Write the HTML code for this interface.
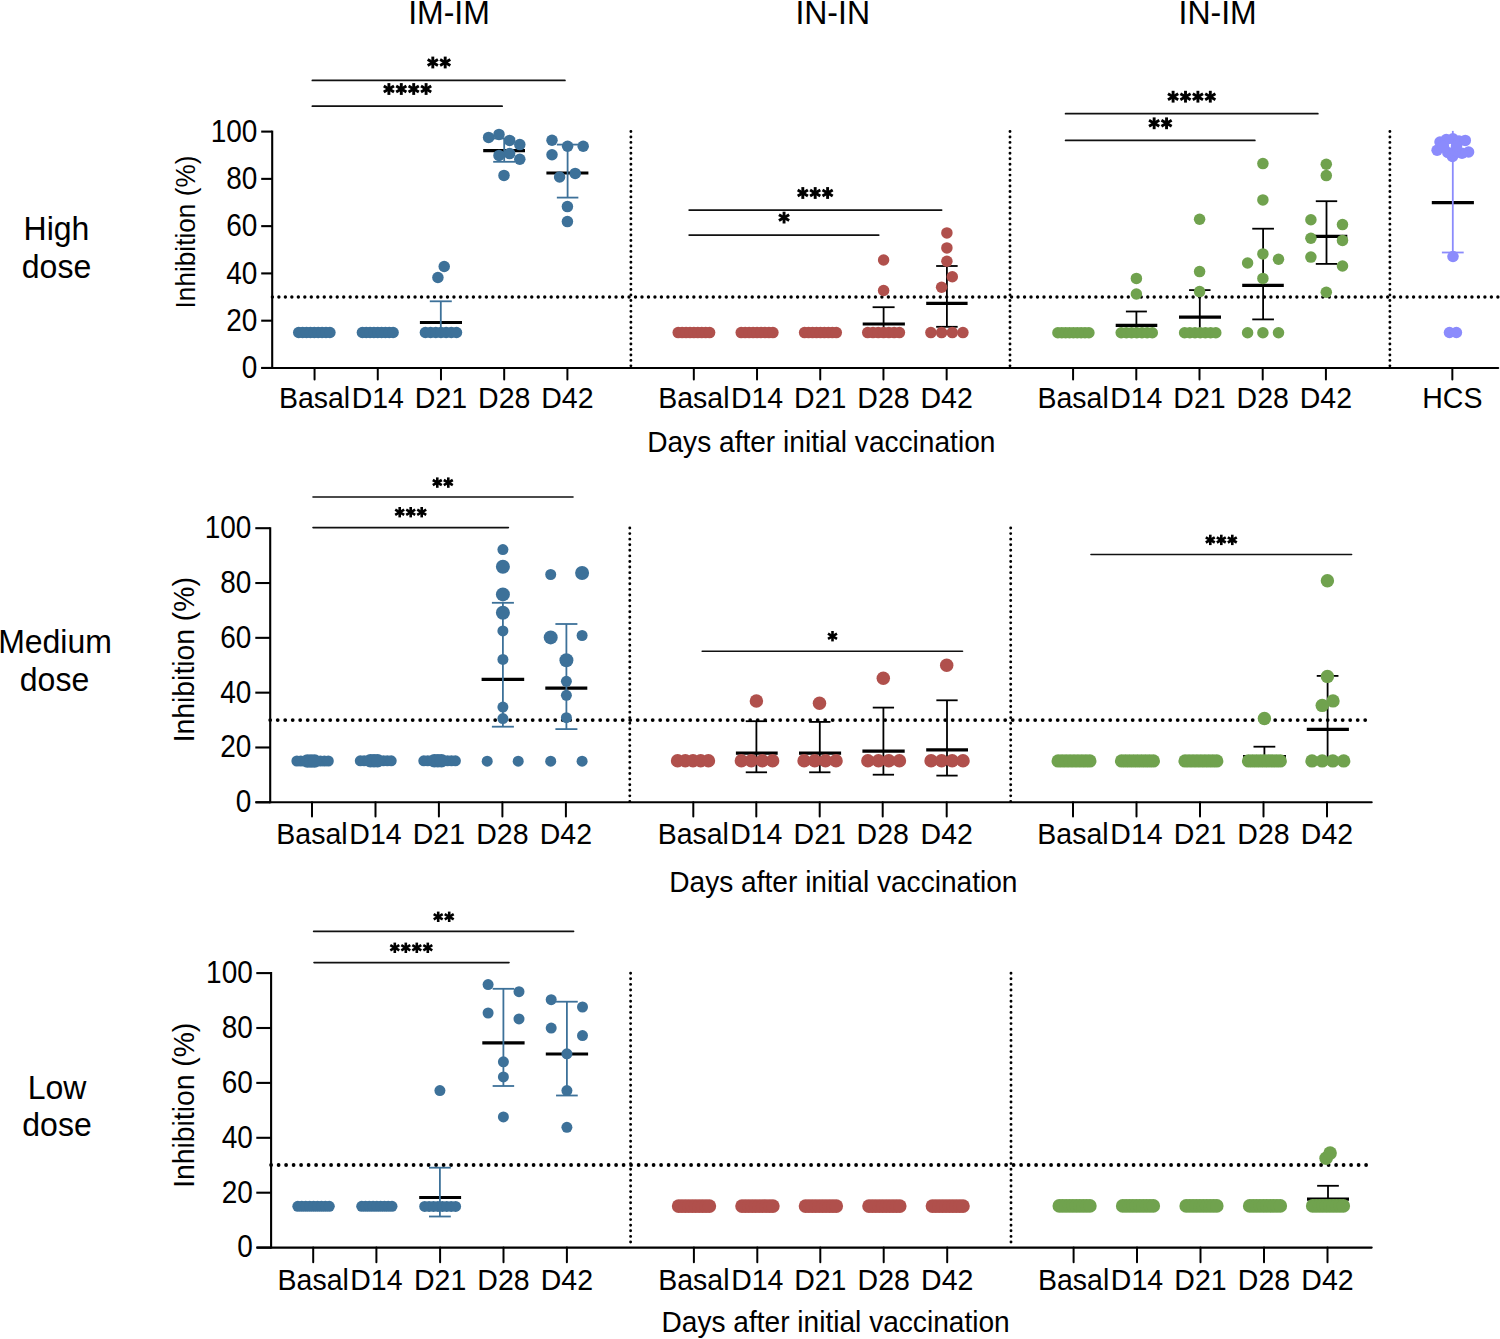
<!DOCTYPE html>
<html><head><meta charset="utf-8"><title>Inhibition chart</title>
<style>
html,body{margin:0;padding:0;background:#fff;}
body{width:1500px;height:1339px;position:relative;overflow:hidden;font-family:"Liberation Sans", sans-serif;}
text{font-family:"Liberation Sans", sans-serif;fill:#000;}
</style></head><body>
<svg width="1500" height="1339" viewBox="0 0 1500 1339" style="position:absolute;left:0;top:0" font-family='"Liberation Sans", sans-serif'>
<rect width="1500" height="1339" fill="#fff"/>
<text transform="translate(449.00 23.80) scale(1 1.045)" font-size="32" text-anchor="middle" font-weight="400" >IM-IM</text>
<text transform="translate(832.70 23.80) scale(1 1.045)" font-size="32" text-anchor="middle" font-weight="400" >IN-IN</text>
<text transform="translate(1217.60 23.80) scale(1 1.045)" font-size="32" text-anchor="middle" font-weight="400" >IN-IM</text>
<text transform="translate(56.50 240.10) scale(1 1.04)" font-size="32" text-anchor="middle" font-weight="400" >High</text>
<text transform="translate(56.50 277.90) scale(1 1.04)" font-size="32" text-anchor="middle" font-weight="400" >dose</text>
<text transform="translate(55.00 653.40) scale(1 1.04)" font-size="32" text-anchor="middle" font-weight="400" >Medium</text>
<text transform="translate(54.50 690.70) scale(1 1.04)" font-size="32" text-anchor="middle" font-weight="400" >dose</text>
<text transform="translate(57.00 1098.60) scale(1 1.04)" font-size="32" text-anchor="middle" font-weight="400" >Low</text>
<text transform="translate(57.00 1135.90) scale(1 1.04)" font-size="32" text-anchor="middle" font-weight="400" >dose</text>
<text x="0" y="0" font-size="26.2" text-anchor="middle" transform="translate(195.30,232.00) rotate(-90) scale(1 1.087)">Inhibition (%)</text>
<text x="0" y="0" font-size="28.3" text-anchor="middle" transform="translate(193.90,659.70) rotate(-90) scale(1 1.058)">Inhibition (%)</text>
<text x="0" y="0" font-size="28.3" text-anchor="middle" transform="translate(193.90,1105.30) rotate(-90) scale(1 1.058)">Inhibition (%)</text>
<text transform="translate(821.30 451.70) scale(1 1.03)" font-size="28.1" text-anchor="middle" font-weight="400" >Days after initial vaccination</text>
<text transform="translate(843.40 891.70) scale(1 1.03)" font-size="28.1" text-anchor="middle" font-weight="400" >Days after initial vaccination</text>
<text transform="translate(835.60 1332.40) scale(1 1.03)" font-size="28.1" text-anchor="middle" font-weight="400" >Days after initial vaccination</text>
<line x1="272.20" y1="130.60" x2="272.20" y2="368.95" stroke="#000" stroke-width="2.1" stroke-linecap="butt" />
<line x1="261.20" y1="367.95" x2="272.20" y2="367.95" stroke="#000" stroke-width="2.1" stroke-linecap="butt" />
<text transform="translate(257.40 378.15) scale(1 1.09)" font-size="28" text-anchor="end" font-weight="400" >0</text>
<line x1="261.20" y1="320.68" x2="272.20" y2="320.68" stroke="#000" stroke-width="2.1" stroke-linecap="butt" />
<text transform="translate(257.40 330.88) scale(1 1.09)" font-size="28" text-anchor="end" font-weight="400" >20</text>
<line x1="261.20" y1="273.41" x2="272.20" y2="273.41" stroke="#000" stroke-width="2.1" stroke-linecap="butt" />
<text transform="translate(257.40 283.61) scale(1 1.09)" font-size="28" text-anchor="end" font-weight="400" >40</text>
<line x1="261.20" y1="226.14" x2="272.20" y2="226.14" stroke="#000" stroke-width="2.1" stroke-linecap="butt" />
<text transform="translate(257.40 236.34) scale(1 1.09)" font-size="28" text-anchor="end" font-weight="400" >60</text>
<line x1="261.20" y1="178.87" x2="272.20" y2="178.87" stroke="#000" stroke-width="2.1" stroke-linecap="butt" />
<text transform="translate(257.40 189.07) scale(1 1.09)" font-size="28" text-anchor="end" font-weight="400" >80</text>
<line x1="261.20" y1="131.60" x2="272.20" y2="131.60" stroke="#000" stroke-width="2.1" stroke-linecap="butt" />
<text transform="translate(257.40 141.80) scale(1 1.09)" font-size="28" text-anchor="end" font-weight="400" >100</text>
<line x1="262.25" y1="367.95" x2="1498.20" y2="367.95" stroke="#000" stroke-width="2.1" stroke-linecap="round" />
<line x1="314.56" y1="367.95" x2="314.56" y2="379.50" stroke="#000" stroke-width="2" stroke-linecap="round" />
<line x1="377.77" y1="367.95" x2="377.77" y2="379.50" stroke="#000" stroke-width="2" stroke-linecap="round" />
<line x1="440.98" y1="367.95" x2="440.98" y2="379.50" stroke="#000" stroke-width="2" stroke-linecap="round" />
<line x1="504.19" y1="367.95" x2="504.19" y2="379.50" stroke="#000" stroke-width="2" stroke-linecap="round" />
<line x1="567.40" y1="367.95" x2="567.40" y2="379.50" stroke="#000" stroke-width="2" stroke-linecap="round" />
<line x1="693.82" y1="367.95" x2="693.82" y2="379.50" stroke="#000" stroke-width="2" stroke-linecap="round" />
<line x1="757.03" y1="367.95" x2="757.03" y2="379.50" stroke="#000" stroke-width="2" stroke-linecap="round" />
<line x1="820.24" y1="367.95" x2="820.24" y2="379.50" stroke="#000" stroke-width="2" stroke-linecap="round" />
<line x1="883.45" y1="367.95" x2="883.45" y2="379.50" stroke="#000" stroke-width="2" stroke-linecap="round" />
<line x1="946.66" y1="367.95" x2="946.66" y2="379.50" stroke="#000" stroke-width="2" stroke-linecap="round" />
<line x1="1073.08" y1="367.95" x2="1073.08" y2="379.50" stroke="#000" stroke-width="2" stroke-linecap="round" />
<line x1="1136.29" y1="367.95" x2="1136.29" y2="379.50" stroke="#000" stroke-width="2" stroke-linecap="round" />
<line x1="1199.50" y1="367.95" x2="1199.50" y2="379.50" stroke="#000" stroke-width="2" stroke-linecap="round" />
<line x1="1262.71" y1="367.95" x2="1262.71" y2="379.50" stroke="#000" stroke-width="2" stroke-linecap="round" />
<line x1="1325.92" y1="367.95" x2="1325.92" y2="379.50" stroke="#000" stroke-width="2" stroke-linecap="round" />
<line x1="1452.34" y1="367.95" x2="1452.34" y2="379.50" stroke="#000" stroke-width="2" stroke-linecap="round" />
<text transform="translate(314.56 408.30) scale(1 1.05)" font-size="28.5" text-anchor="middle" font-weight="400" >Basal</text>
<text transform="translate(377.77 408.30) scale(1 1.05)" font-size="28.5" text-anchor="middle" font-weight="400" >D14</text>
<text transform="translate(440.98 408.30) scale(1 1.05)" font-size="28.5" text-anchor="middle" font-weight="400" >D21</text>
<text transform="translate(504.19 408.30) scale(1 1.05)" font-size="28.5" text-anchor="middle" font-weight="400" >D28</text>
<text transform="translate(567.40 408.30) scale(1 1.05)" font-size="28.5" text-anchor="middle" font-weight="400" >D42</text>
<text transform="translate(693.82 408.30) scale(1 1.05)" font-size="28.5" text-anchor="middle" font-weight="400" >Basal</text>
<text transform="translate(757.03 408.30) scale(1 1.05)" font-size="28.5" text-anchor="middle" font-weight="400" >D14</text>
<text transform="translate(820.24 408.30) scale(1 1.05)" font-size="28.5" text-anchor="middle" font-weight="400" >D21</text>
<text transform="translate(883.45 408.30) scale(1 1.05)" font-size="28.5" text-anchor="middle" font-weight="400" >D28</text>
<text transform="translate(946.66 408.30) scale(1 1.05)" font-size="28.5" text-anchor="middle" font-weight="400" >D42</text>
<text transform="translate(1073.08 408.30) scale(1 1.05)" font-size="28.5" text-anchor="middle" font-weight="400" >Basal</text>
<text transform="translate(1136.29 408.30) scale(1 1.05)" font-size="28.5" text-anchor="middle" font-weight="400" >D14</text>
<text transform="translate(1199.50 408.30) scale(1 1.05)" font-size="28.5" text-anchor="middle" font-weight="400" >D21</text>
<text transform="translate(1262.71 408.30) scale(1 1.05)" font-size="28.5" text-anchor="middle" font-weight="400" >D28</text>
<text transform="translate(1325.92 408.30) scale(1 1.05)" font-size="28.5" text-anchor="middle" font-weight="400" >D42</text>
<text transform="translate(1452.34 408.30) scale(1 1.05)" font-size="28.5" text-anchor="middle" font-weight="400" >HCS</text>
<line x1="270.20" y1="527.20" x2="270.20" y2="803.30" stroke="#000" stroke-width="2.1" stroke-linecap="butt" />
<line x1="255.30" y1="802.30" x2="270.20" y2="802.30" stroke="#000" stroke-width="2.1" stroke-linecap="butt" />
<text transform="translate(251.40 812.30) scale(1 1.09)" font-size="28" text-anchor="end" font-weight="400" >0</text>
<line x1="255.30" y1="747.48" x2="270.20" y2="747.48" stroke="#000" stroke-width="2.1" stroke-linecap="butt" />
<text transform="translate(251.40 757.48) scale(1 1.09)" font-size="28" text-anchor="end" font-weight="400" >20</text>
<line x1="255.30" y1="692.66" x2="270.20" y2="692.66" stroke="#000" stroke-width="2.1" stroke-linecap="butt" />
<text transform="translate(251.40 702.66) scale(1 1.09)" font-size="28" text-anchor="end" font-weight="400" >40</text>
<line x1="255.30" y1="637.84" x2="270.20" y2="637.84" stroke="#000" stroke-width="2.1" stroke-linecap="butt" />
<text transform="translate(251.40 647.84) scale(1 1.09)" font-size="28" text-anchor="end" font-weight="400" >60</text>
<line x1="255.30" y1="583.02" x2="270.20" y2="583.02" stroke="#000" stroke-width="2.1" stroke-linecap="butt" />
<text transform="translate(251.40 593.02) scale(1 1.09)" font-size="28" text-anchor="end" font-weight="400" >80</text>
<line x1="255.30" y1="528.20" x2="270.20" y2="528.20" stroke="#000" stroke-width="2.1" stroke-linecap="butt" />
<text transform="translate(251.40 538.20) scale(1 1.09)" font-size="28" text-anchor="end" font-weight="400" >100</text>
<line x1="256.35" y1="802.30" x2="1371.70" y2="802.30" stroke="#000" stroke-width="2.1" stroke-linecap="round" />
<line x1="312.00" y1="802.30" x2="312.00" y2="816.60" stroke="#000" stroke-width="2" stroke-linecap="round" />
<line x1="375.50" y1="802.30" x2="375.50" y2="816.60" stroke="#000" stroke-width="2" stroke-linecap="round" />
<line x1="438.90" y1="802.30" x2="438.90" y2="816.60" stroke="#000" stroke-width="2" stroke-linecap="round" />
<line x1="502.40" y1="802.30" x2="502.40" y2="816.60" stroke="#000" stroke-width="2" stroke-linecap="round" />
<line x1="565.90" y1="802.30" x2="565.90" y2="816.60" stroke="#000" stroke-width="2" stroke-linecap="round" />
<line x1="693.30" y1="802.30" x2="693.30" y2="816.60" stroke="#000" stroke-width="2" stroke-linecap="round" />
<line x1="756.30" y1="802.30" x2="756.30" y2="816.60" stroke="#000" stroke-width="2" stroke-linecap="round" />
<line x1="819.70" y1="802.30" x2="819.70" y2="816.60" stroke="#000" stroke-width="2" stroke-linecap="round" />
<line x1="882.70" y1="802.30" x2="882.70" y2="816.60" stroke="#000" stroke-width="2" stroke-linecap="round" />
<line x1="946.70" y1="802.30" x2="946.70" y2="816.60" stroke="#000" stroke-width="2" stroke-linecap="round" />
<line x1="1073.00" y1="802.30" x2="1073.00" y2="816.60" stroke="#000" stroke-width="2" stroke-linecap="round" />
<line x1="1136.50" y1="802.30" x2="1136.50" y2="816.60" stroke="#000" stroke-width="2" stroke-linecap="round" />
<line x1="1200.00" y1="802.30" x2="1200.00" y2="816.60" stroke="#000" stroke-width="2" stroke-linecap="round" />
<line x1="1263.50" y1="802.30" x2="1263.50" y2="816.60" stroke="#000" stroke-width="2" stroke-linecap="round" />
<line x1="1327.00" y1="802.30" x2="1327.00" y2="816.60" stroke="#000" stroke-width="2" stroke-linecap="round" />
<text transform="translate(312.00 844.40) scale(1 1.05)" font-size="28.5" text-anchor="middle" font-weight="400" >Basal</text>
<text transform="translate(375.50 844.40) scale(1 1.05)" font-size="28.5" text-anchor="middle" font-weight="400" >D14</text>
<text transform="translate(438.90 844.40) scale(1 1.05)" font-size="28.5" text-anchor="middle" font-weight="400" >D21</text>
<text transform="translate(502.40 844.40) scale(1 1.05)" font-size="28.5" text-anchor="middle" font-weight="400" >D28</text>
<text transform="translate(565.90 844.40) scale(1 1.05)" font-size="28.5" text-anchor="middle" font-weight="400" >D42</text>
<text transform="translate(693.30 844.40) scale(1 1.05)" font-size="28.5" text-anchor="middle" font-weight="400" >Basal</text>
<text transform="translate(756.30 844.40) scale(1 1.05)" font-size="28.5" text-anchor="middle" font-weight="400" >D14</text>
<text transform="translate(819.70 844.40) scale(1 1.05)" font-size="28.5" text-anchor="middle" font-weight="400" >D21</text>
<text transform="translate(882.70 844.40) scale(1 1.05)" font-size="28.5" text-anchor="middle" font-weight="400" >D28</text>
<text transform="translate(946.70 844.40) scale(1 1.05)" font-size="28.5" text-anchor="middle" font-weight="400" >D42</text>
<text transform="translate(1073.00 844.40) scale(1 1.05)" font-size="28.5" text-anchor="middle" font-weight="400" >Basal</text>
<text transform="translate(1136.50 844.40) scale(1 1.05)" font-size="28.5" text-anchor="middle" font-weight="400" >D14</text>
<text transform="translate(1200.00 844.40) scale(1 1.05)" font-size="28.5" text-anchor="middle" font-weight="400" >D21</text>
<text transform="translate(1263.50 844.40) scale(1 1.05)" font-size="28.5" text-anchor="middle" font-weight="400" >D28</text>
<text transform="translate(1327.00 844.40) scale(1 1.05)" font-size="28.5" text-anchor="middle" font-weight="400" >D42</text>
<line x1="271.10" y1="972.10" x2="271.10" y2="1248.60" stroke="#000" stroke-width="2.1" stroke-linecap="butt" />
<line x1="256.30" y1="1247.60" x2="271.10" y2="1247.60" stroke="#000" stroke-width="2.1" stroke-linecap="butt" />
<text transform="translate(252.80 1257.40) scale(1 1.09)" font-size="28" text-anchor="end" font-weight="400" >0</text>
<line x1="256.30" y1="1192.70" x2="271.10" y2="1192.70" stroke="#000" stroke-width="2.1" stroke-linecap="butt" />
<text transform="translate(252.80 1202.50) scale(1 1.09)" font-size="28" text-anchor="end" font-weight="400" >20</text>
<line x1="256.30" y1="1137.80" x2="271.10" y2="1137.80" stroke="#000" stroke-width="2.1" stroke-linecap="butt" />
<text transform="translate(252.80 1147.60) scale(1 1.09)" font-size="28" text-anchor="end" font-weight="400" >40</text>
<line x1="256.30" y1="1082.90" x2="271.10" y2="1082.90" stroke="#000" stroke-width="2.1" stroke-linecap="butt" />
<text transform="translate(252.80 1092.70) scale(1 1.09)" font-size="28" text-anchor="end" font-weight="400" >60</text>
<line x1="256.30" y1="1028.00" x2="271.10" y2="1028.00" stroke="#000" stroke-width="2.1" stroke-linecap="butt" />
<text transform="translate(252.80 1037.80) scale(1 1.09)" font-size="28" text-anchor="end" font-weight="400" >80</text>
<line x1="256.30" y1="973.10" x2="271.10" y2="973.10" stroke="#000" stroke-width="2.1" stroke-linecap="butt" />
<text transform="translate(252.80 982.90) scale(1 1.09)" font-size="28" text-anchor="end" font-weight="400" >100</text>
<line x1="257.35" y1="1247.60" x2="1371.70" y2="1247.60" stroke="#000" stroke-width="2.1" stroke-linecap="round" />
<line x1="313.20" y1="1247.60" x2="313.20" y2="1262.20" stroke="#000" stroke-width="2" stroke-linecap="round" />
<line x1="376.40" y1="1247.60" x2="376.40" y2="1262.20" stroke="#000" stroke-width="2" stroke-linecap="round" />
<line x1="440.10" y1="1247.60" x2="440.10" y2="1262.20" stroke="#000" stroke-width="2" stroke-linecap="round" />
<line x1="503.50" y1="1247.60" x2="503.50" y2="1262.20" stroke="#000" stroke-width="2" stroke-linecap="round" />
<line x1="566.90" y1="1247.60" x2="566.90" y2="1262.20" stroke="#000" stroke-width="2" stroke-linecap="round" />
<line x1="693.90" y1="1247.60" x2="693.90" y2="1262.20" stroke="#000" stroke-width="2" stroke-linecap="round" />
<line x1="757.30" y1="1247.60" x2="757.30" y2="1262.20" stroke="#000" stroke-width="2" stroke-linecap="round" />
<line x1="820.30" y1="1247.60" x2="820.30" y2="1262.20" stroke="#000" stroke-width="2" stroke-linecap="round" />
<line x1="883.70" y1="1247.60" x2="883.70" y2="1262.20" stroke="#000" stroke-width="2" stroke-linecap="round" />
<line x1="947.20" y1="1247.60" x2="947.20" y2="1262.20" stroke="#000" stroke-width="2" stroke-linecap="round" />
<line x1="1073.60" y1="1247.60" x2="1073.60" y2="1262.20" stroke="#000" stroke-width="2" stroke-linecap="round" />
<line x1="1137.00" y1="1247.60" x2="1137.00" y2="1262.20" stroke="#000" stroke-width="2" stroke-linecap="round" />
<line x1="1200.50" y1="1247.60" x2="1200.50" y2="1262.20" stroke="#000" stroke-width="2" stroke-linecap="round" />
<line x1="1264.00" y1="1247.60" x2="1264.00" y2="1262.20" stroke="#000" stroke-width="2" stroke-linecap="round" />
<line x1="1327.50" y1="1247.60" x2="1327.50" y2="1262.20" stroke="#000" stroke-width="2" stroke-linecap="round" />
<text transform="translate(313.20 1290.00) scale(1 1.05)" font-size="28.5" text-anchor="middle" font-weight="400" >Basal</text>
<text transform="translate(376.40 1290.00) scale(1 1.05)" font-size="28.5" text-anchor="middle" font-weight="400" >D14</text>
<text transform="translate(440.10 1290.00) scale(1 1.05)" font-size="28.5" text-anchor="middle" font-weight="400" >D21</text>
<text transform="translate(503.50 1290.00) scale(1 1.05)" font-size="28.5" text-anchor="middle" font-weight="400" >D28</text>
<text transform="translate(566.90 1290.00) scale(1 1.05)" font-size="28.5" text-anchor="middle" font-weight="400" >D42</text>
<text transform="translate(693.90 1290.00) scale(1 1.05)" font-size="28.5" text-anchor="middle" font-weight="400" >Basal</text>
<text transform="translate(757.30 1290.00) scale(1 1.05)" font-size="28.5" text-anchor="middle" font-weight="400" >D14</text>
<text transform="translate(820.30 1290.00) scale(1 1.05)" font-size="28.5" text-anchor="middle" font-weight="400" >D21</text>
<text transform="translate(883.70 1290.00) scale(1 1.05)" font-size="28.5" text-anchor="middle" font-weight="400" >D28</text>
<text transform="translate(947.20 1290.00) scale(1 1.05)" font-size="28.5" text-anchor="middle" font-weight="400" >D42</text>
<text transform="translate(1073.60 1290.00) scale(1 1.05)" font-size="28.5" text-anchor="middle" font-weight="400" >Basal</text>
<text transform="translate(1137.00 1290.00) scale(1 1.05)" font-size="28.5" text-anchor="middle" font-weight="400" >D14</text>
<text transform="translate(1200.50 1290.00) scale(1 1.05)" font-size="28.5" text-anchor="middle" font-weight="400" >D21</text>
<text transform="translate(1264.00 1290.00) scale(1 1.05)" font-size="28.5" text-anchor="middle" font-weight="400" >D28</text>
<text transform="translate(1327.50 1290.00) scale(1 1.05)" font-size="28.5" text-anchor="middle" font-weight="400" >D42</text>
<line x1="272.40" y1="297.00" x2="1500.00" y2="297.00" stroke="#000" stroke-width="3.4" stroke-linecap="round" stroke-dasharray="0 6.484"/>
<line x1="630.90" y1="131.50" x2="630.90" y2="368.00" stroke="#000" stroke-width="2.9" stroke-linecap="round" stroke-dasharray="0 5.45"/>
<line x1="1010.00" y1="131.50" x2="1010.00" y2="368.00" stroke="#000" stroke-width="2.9" stroke-linecap="round" stroke-dasharray="0 5.45"/>
<line x1="1389.90" y1="131.50" x2="1389.90" y2="368.00" stroke="#000" stroke-width="2.9" stroke-linecap="round" stroke-dasharray="0 5.45"/>
<line x1="270.20" y1="720.10" x2="1370.00" y2="720.10" stroke="#000" stroke-width="3.8" stroke-linecap="round" stroke-dasharray="0 7.5"/>
<line x1="629.80" y1="528.00" x2="629.80" y2="802.00" stroke="#000" stroke-width="2.9" stroke-linecap="round" stroke-dasharray="0 5.58"/>
<line x1="1010.70" y1="528.00" x2="1010.70" y2="802.00" stroke="#000" stroke-width="2.9" stroke-linecap="round" stroke-dasharray="0 5.58"/>
<line x1="271.10" y1="1165.00" x2="1370.00" y2="1165.00" stroke="#000" stroke-width="3.8" stroke-linecap="round" stroke-dasharray="0 7.5"/>
<line x1="630.60" y1="973.20" x2="630.60" y2="1247.00" stroke="#000" stroke-width="2.9" stroke-linecap="round" stroke-dasharray="0 5.6"/>
<line x1="1011.00" y1="973.20" x2="1011.00" y2="1247.00" stroke="#000" stroke-width="2.9" stroke-linecap="round" stroke-dasharray="0 5.6"/>
<circle cx="298.70" cy="332.50" r="5.75" fill="#3d7199"/>
<circle cx="302.60" cy="332.50" r="5.75" fill="#3d7199"/>
<circle cx="306.50" cy="332.50" r="5.75" fill="#3d7199"/>
<circle cx="310.40" cy="332.50" r="5.75" fill="#3d7199"/>
<circle cx="314.30" cy="332.50" r="5.75" fill="#3d7199"/>
<circle cx="318.20" cy="332.50" r="5.75" fill="#3d7199"/>
<circle cx="322.10" cy="332.50" r="5.75" fill="#3d7199"/>
<circle cx="326.00" cy="332.50" r="5.75" fill="#3d7199"/>
<circle cx="329.90" cy="332.50" r="5.75" fill="#3d7199"/>
<circle cx="362.40" cy="332.50" r="5.75" fill="#3d7199"/>
<circle cx="366.24" cy="332.50" r="5.75" fill="#3d7199"/>
<circle cx="370.07" cy="332.50" r="5.75" fill="#3d7199"/>
<circle cx="373.91" cy="332.50" r="5.75" fill="#3d7199"/>
<circle cx="377.75" cy="332.50" r="5.75" fill="#3d7199"/>
<circle cx="381.59" cy="332.50" r="5.75" fill="#3d7199"/>
<circle cx="385.43" cy="332.50" r="5.75" fill="#3d7199"/>
<circle cx="389.26" cy="332.50" r="5.75" fill="#3d7199"/>
<circle cx="393.10" cy="332.50" r="5.75" fill="#3d7199"/>
<line x1="419.90" y1="322.50" x2="462.00" y2="322.50" stroke="#000" stroke-width="3.2" stroke-linecap="butt" />
<line x1="440.80" y1="301.30" x2="440.80" y2="332.50" stroke="#3d7199" stroke-width="1.8" stroke-linecap="butt" />
<line x1="429.80" y1="301.30" x2="451.80" y2="301.30" stroke="#3d7199" stroke-width="1.8" stroke-linecap="butt" />
<circle cx="425.40" cy="332.50" r="5.75" fill="#3d7199"/>
<circle cx="430.58" cy="332.50" r="5.75" fill="#3d7199"/>
<circle cx="435.77" cy="332.50" r="5.75" fill="#3d7199"/>
<circle cx="440.95" cy="332.50" r="5.75" fill="#3d7199"/>
<circle cx="446.13" cy="332.50" r="5.75" fill="#3d7199"/>
<circle cx="451.32" cy="332.50" r="5.75" fill="#3d7199"/>
<circle cx="456.50" cy="332.50" r="5.75" fill="#3d7199"/>
<circle cx="444.20" cy="266.50" r="5.75" fill="#3d7199"/>
<circle cx="437.90" cy="277.50" r="5.75" fill="#3d7199"/>
<line x1="483.20" y1="150.60" x2="525.00" y2="150.60" stroke="#000" stroke-width="3.2" stroke-linecap="butt" />
<line x1="504.20" y1="138.50" x2="504.20" y2="161.80" stroke="#3d7199" stroke-width="1.8" stroke-linecap="butt" />
<line x1="493.20" y1="138.50" x2="515.20" y2="138.50" stroke="#3d7199" stroke-width="1.8" stroke-linecap="butt" />
<line x1="493.20" y1="161.80" x2="515.20" y2="161.80" stroke="#3d7199" stroke-width="1.8" stroke-linecap="butt" />
<circle cx="488.60" cy="137.40" r="5.75" fill="#3d7199"/>
<circle cx="499.00" cy="134.40" r="5.75" fill="#3d7199"/>
<circle cx="509.60" cy="140.40" r="5.75" fill="#3d7199"/>
<circle cx="519.80" cy="144.60" r="5.75" fill="#3d7199"/>
<circle cx="499.00" cy="155.40" r="5.75" fill="#3d7199"/>
<circle cx="509.60" cy="153.60" r="5.75" fill="#3d7199"/>
<circle cx="519.80" cy="159.20" r="5.75" fill="#3d7199"/>
<circle cx="504.00" cy="175.40" r="5.75" fill="#3d7199"/>
<line x1="546.40" y1="173.00" x2="588.40" y2="173.00" stroke="#000" stroke-width="3.2" stroke-linecap="butt" />
<line x1="567.60" y1="144.60" x2="567.60" y2="197.60" stroke="#3d7199" stroke-width="1.8" stroke-linecap="butt" />
<line x1="556.85" y1="144.60" x2="578.35" y2="144.60" stroke="#3d7199" stroke-width="1.8" stroke-linecap="butt" />
<line x1="556.85" y1="197.60" x2="578.35" y2="197.60" stroke="#3d7199" stroke-width="1.8" stroke-linecap="butt" />
<circle cx="552.00" cy="140.20" r="5.75" fill="#3d7199"/>
<circle cx="567.60" cy="146.20" r="5.75" fill="#3d7199"/>
<circle cx="583.20" cy="146.20" r="5.75" fill="#3d7199"/>
<circle cx="552.00" cy="154.80" r="5.75" fill="#3d7199"/>
<circle cx="559.60" cy="177.00" r="5.75" fill="#3d7199"/>
<circle cx="575.20" cy="173.40" r="5.75" fill="#3d7199"/>
<circle cx="567.40" cy="206.60" r="5.75" fill="#3d7199"/>
<circle cx="567.40" cy="221.60" r="5.75" fill="#3d7199"/>
<line x1="312.40" y1="80.40" x2="564.90" y2="80.40" stroke="#111" stroke-width="1.8" stroke-linecap="round" />
<line x1="432.80" y1="56.60" x2="432.80" y2="68.40" stroke="#000" stroke-width="2.9"/>
<line x1="427.69" y1="59.55" x2="437.91" y2="65.45" stroke="#000" stroke-width="2.9"/>
<line x1="427.69" y1="65.45" x2="437.91" y2="59.55" stroke="#000" stroke-width="2.9"/>
<line x1="445.20" y1="56.60" x2="445.20" y2="68.40" stroke="#000" stroke-width="2.9"/>
<line x1="440.09" y1="59.55" x2="450.31" y2="65.45" stroke="#000" stroke-width="2.9"/>
<line x1="440.09" y1="65.45" x2="450.31" y2="59.55" stroke="#000" stroke-width="2.9"/>
<line x1="312.40" y1="106.20" x2="502.10" y2="106.20" stroke="#111" stroke-width="1.8" stroke-linecap="round" />
<line x1="388.90" y1="83.10" x2="388.90" y2="94.90" stroke="#000" stroke-width="2.9"/>
<line x1="383.79" y1="86.05" x2="394.01" y2="91.95" stroke="#000" stroke-width="2.9"/>
<line x1="383.79" y1="91.95" x2="394.01" y2="86.05" stroke="#000" stroke-width="2.9"/>
<line x1="401.30" y1="83.10" x2="401.30" y2="94.90" stroke="#000" stroke-width="2.9"/>
<line x1="396.19" y1="86.05" x2="406.41" y2="91.95" stroke="#000" stroke-width="2.9"/>
<line x1="396.19" y1="91.95" x2="406.41" y2="86.05" stroke="#000" stroke-width="2.9"/>
<line x1="413.70" y1="83.10" x2="413.70" y2="94.90" stroke="#000" stroke-width="2.9"/>
<line x1="408.59" y1="86.05" x2="418.81" y2="91.95" stroke="#000" stroke-width="2.9"/>
<line x1="408.59" y1="91.95" x2="418.81" y2="86.05" stroke="#000" stroke-width="2.9"/>
<line x1="426.10" y1="83.10" x2="426.10" y2="94.90" stroke="#000" stroke-width="2.9"/>
<line x1="420.99" y1="86.05" x2="431.21" y2="91.95" stroke="#000" stroke-width="2.9"/>
<line x1="420.99" y1="91.95" x2="431.21" y2="86.05" stroke="#000" stroke-width="2.9"/>
<circle cx="678.20" cy="332.60" r="5.75" fill="#b0504c"/>
<circle cx="682.12" cy="332.60" r="5.75" fill="#b0504c"/>
<circle cx="686.05" cy="332.60" r="5.75" fill="#b0504c"/>
<circle cx="689.98" cy="332.60" r="5.75" fill="#b0504c"/>
<circle cx="693.90" cy="332.60" r="5.75" fill="#b0504c"/>
<circle cx="697.83" cy="332.60" r="5.75" fill="#b0504c"/>
<circle cx="701.75" cy="332.60" r="5.75" fill="#b0504c"/>
<circle cx="705.68" cy="332.60" r="5.75" fill="#b0504c"/>
<circle cx="709.60" cy="332.60" r="5.75" fill="#b0504c"/>
<circle cx="741.20" cy="332.60" r="5.75" fill="#b0504c"/>
<circle cx="745.16" cy="332.60" r="5.75" fill="#b0504c"/>
<circle cx="749.12" cy="332.60" r="5.75" fill="#b0504c"/>
<circle cx="753.09" cy="332.60" r="5.75" fill="#b0504c"/>
<circle cx="757.05" cy="332.60" r="5.75" fill="#b0504c"/>
<circle cx="761.01" cy="332.60" r="5.75" fill="#b0504c"/>
<circle cx="764.98" cy="332.60" r="5.75" fill="#b0504c"/>
<circle cx="768.94" cy="332.60" r="5.75" fill="#b0504c"/>
<circle cx="772.90" cy="332.60" r="5.75" fill="#b0504c"/>
<circle cx="804.60" cy="332.60" r="5.75" fill="#b0504c"/>
<circle cx="808.56" cy="332.60" r="5.75" fill="#b0504c"/>
<circle cx="812.52" cy="332.60" r="5.75" fill="#b0504c"/>
<circle cx="816.49" cy="332.60" r="5.75" fill="#b0504c"/>
<circle cx="820.45" cy="332.60" r="5.75" fill="#b0504c"/>
<circle cx="824.41" cy="332.60" r="5.75" fill="#b0504c"/>
<circle cx="828.38" cy="332.60" r="5.75" fill="#b0504c"/>
<circle cx="832.34" cy="332.60" r="5.75" fill="#b0504c"/>
<circle cx="836.30" cy="332.60" r="5.75" fill="#b0504c"/>
<line x1="862.70" y1="324.00" x2="904.90" y2="324.00" stroke="#000" stroke-width="3.2" stroke-linecap="butt" />
<line x1="883.60" y1="307.20" x2="883.60" y2="332.60" stroke="#000" stroke-width="1.8" stroke-linecap="butt" />
<line x1="872.60" y1="307.20" x2="894.60" y2="307.20" stroke="#000" stroke-width="1.8" stroke-linecap="butt" />
<circle cx="867.70" cy="332.60" r="5.75" fill="#b0504c"/>
<circle cx="872.98" cy="332.60" r="5.75" fill="#b0504c"/>
<circle cx="878.27" cy="332.60" r="5.75" fill="#b0504c"/>
<circle cx="883.55" cy="332.60" r="5.75" fill="#b0504c"/>
<circle cx="888.83" cy="332.60" r="5.75" fill="#b0504c"/>
<circle cx="894.12" cy="332.60" r="5.75" fill="#b0504c"/>
<circle cx="899.40" cy="332.60" r="5.75" fill="#b0504c"/>
<circle cx="883.60" cy="260.00" r="5.75" fill="#b0504c"/>
<circle cx="883.60" cy="290.50" r="5.75" fill="#b0504c"/>
<line x1="926.20" y1="303.30" x2="967.60" y2="303.30" stroke="#000" stroke-width="3.2" stroke-linecap="butt" />
<line x1="946.90" y1="266.00" x2="946.90" y2="326.80" stroke="#000" stroke-width="1.8" stroke-linecap="butt" />
<line x1="936.15" y1="266.00" x2="957.65" y2="266.00" stroke="#000" stroke-width="1.8" stroke-linecap="butt" />
<line x1="936.15" y1="326.80" x2="957.65" y2="326.80" stroke="#000" stroke-width="1.8" stroke-linecap="butt" />
<circle cx="946.90" cy="232.90" r="5.75" fill="#b0504c"/>
<circle cx="946.90" cy="247.90" r="5.75" fill="#b0504c"/>
<circle cx="946.90" cy="261.30" r="5.75" fill="#b0504c"/>
<circle cx="952.30" cy="276.70" r="5.75" fill="#b0504c"/>
<circle cx="941.60" cy="287.30" r="5.75" fill="#b0504c"/>
<circle cx="930.90" cy="332.60" r="5.75" fill="#b0504c"/>
<circle cx="941.60" cy="332.60" r="5.75" fill="#b0504c"/>
<circle cx="952.30" cy="332.60" r="5.75" fill="#b0504c"/>
<circle cx="962.90" cy="332.60" r="5.75" fill="#b0504c"/>
<line x1="689.20" y1="210.10" x2="941.60" y2="210.10" stroke="#111" stroke-width="1.8" stroke-linecap="round" />
<line x1="802.80" y1="187.10" x2="802.80" y2="198.90" stroke="#000" stroke-width="2.9"/>
<line x1="797.69" y1="190.05" x2="807.91" y2="195.95" stroke="#000" stroke-width="2.9"/>
<line x1="797.69" y1="195.95" x2="807.91" y2="190.05" stroke="#000" stroke-width="2.9"/>
<line x1="815.20" y1="187.10" x2="815.20" y2="198.90" stroke="#000" stroke-width="2.9"/>
<line x1="810.09" y1="190.05" x2="820.31" y2="195.95" stroke="#000" stroke-width="2.9"/>
<line x1="810.09" y1="195.95" x2="820.31" y2="190.05" stroke="#000" stroke-width="2.9"/>
<line x1="827.60" y1="187.10" x2="827.60" y2="198.90" stroke="#000" stroke-width="2.9"/>
<line x1="822.49" y1="190.05" x2="832.71" y2="195.95" stroke="#000" stroke-width="2.9"/>
<line x1="822.49" y1="195.95" x2="832.71" y2="190.05" stroke="#000" stroke-width="2.9"/>
<line x1="689.20" y1="235.10" x2="878.70" y2="235.10" stroke="#111" stroke-width="1.8" stroke-linecap="round" />
<line x1="784.05" y1="211.70" x2="784.05" y2="223.50" stroke="#000" stroke-width="2.9"/>
<line x1="778.94" y1="214.65" x2="789.16" y2="220.55" stroke="#000" stroke-width="2.9"/>
<line x1="778.94" y1="220.55" x2="789.16" y2="214.65" stroke="#000" stroke-width="2.9"/>
<circle cx="1057.90" cy="332.80" r="5.75" fill="#70a24e"/>
<circle cx="1061.78" cy="332.80" r="5.75" fill="#70a24e"/>
<circle cx="1065.65" cy="332.80" r="5.75" fill="#70a24e"/>
<circle cx="1069.53" cy="332.80" r="5.75" fill="#70a24e"/>
<circle cx="1073.40" cy="332.80" r="5.75" fill="#70a24e"/>
<circle cx="1077.28" cy="332.80" r="5.75" fill="#70a24e"/>
<circle cx="1081.15" cy="332.80" r="5.75" fill="#70a24e"/>
<circle cx="1085.03" cy="332.80" r="5.75" fill="#70a24e"/>
<circle cx="1088.90" cy="332.80" r="5.75" fill="#70a24e"/>
<line x1="1115.70" y1="325.30" x2="1157.30" y2="325.30" stroke="#000" stroke-width="3.2" stroke-linecap="butt" />
<line x1="1136.40" y1="311.50" x2="1136.40" y2="332.80" stroke="#000" stroke-width="1.8" stroke-linecap="butt" />
<line x1="1125.90" y1="311.50" x2="1146.90" y2="311.50" stroke="#000" stroke-width="1.8" stroke-linecap="butt" />
<circle cx="1121.20" cy="332.80" r="5.75" fill="#70a24e"/>
<circle cx="1126.38" cy="332.80" r="5.75" fill="#70a24e"/>
<circle cx="1131.57" cy="332.80" r="5.75" fill="#70a24e"/>
<circle cx="1136.75" cy="332.80" r="5.75" fill="#70a24e"/>
<circle cx="1141.93" cy="332.80" r="5.75" fill="#70a24e"/>
<circle cx="1147.12" cy="332.80" r="5.75" fill="#70a24e"/>
<circle cx="1152.30" cy="332.80" r="5.75" fill="#70a24e"/>
<circle cx="1136.40" cy="278.40" r="5.75" fill="#70a24e"/>
<circle cx="1136.40" cy="294.00" r="5.75" fill="#70a24e"/>
<line x1="1179.00" y1="317.20" x2="1221.00" y2="317.20" stroke="#000" stroke-width="3.2" stroke-linecap="butt" />
<line x1="1199.80" y1="290.10" x2="1199.80" y2="332.80" stroke="#000" stroke-width="1.8" stroke-linecap="butt" />
<line x1="1189.05" y1="290.10" x2="1210.55" y2="290.10" stroke="#000" stroke-width="1.8" stroke-linecap="butt" />
<circle cx="1184.60" cy="332.80" r="5.75" fill="#70a24e"/>
<circle cx="1189.80" cy="332.80" r="5.75" fill="#70a24e"/>
<circle cx="1195.00" cy="332.80" r="5.75" fill="#70a24e"/>
<circle cx="1200.20" cy="332.80" r="5.75" fill="#70a24e"/>
<circle cx="1205.40" cy="332.80" r="5.75" fill="#70a24e"/>
<circle cx="1210.60" cy="332.80" r="5.75" fill="#70a24e"/>
<circle cx="1215.80" cy="332.80" r="5.75" fill="#70a24e"/>
<circle cx="1199.60" cy="219.30" r="5.75" fill="#70a24e"/>
<circle cx="1199.60" cy="271.60" r="5.75" fill="#70a24e"/>
<circle cx="1199.60" cy="291.60" r="5.75" fill="#70a24e"/>
<line x1="1242.20" y1="285.40" x2="1283.80" y2="285.40" stroke="#000" stroke-width="3.2" stroke-linecap="butt" />
<line x1="1263.10" y1="228.70" x2="1263.10" y2="319.40" stroke="#000" stroke-width="1.8" stroke-linecap="butt" />
<line x1="1252.25" y1="228.70" x2="1273.95" y2="228.70" stroke="#000" stroke-width="1.8" stroke-linecap="butt" />
<line x1="1252.25" y1="319.40" x2="1273.95" y2="319.40" stroke="#000" stroke-width="1.8" stroke-linecap="butt" />
<circle cx="1262.90" cy="163.60" r="5.75" fill="#70a24e"/>
<circle cx="1262.90" cy="199.90" r="5.75" fill="#70a24e"/>
<circle cx="1262.90" cy="253.90" r="5.75" fill="#70a24e"/>
<circle cx="1278.50" cy="259.20" r="5.75" fill="#70a24e"/>
<circle cx="1247.60" cy="263.00" r="5.75" fill="#70a24e"/>
<circle cx="1262.90" cy="278.40" r="5.75" fill="#70a24e"/>
<circle cx="1247.60" cy="332.80" r="5.75" fill="#70a24e"/>
<circle cx="1262.90" cy="332.80" r="5.75" fill="#70a24e"/>
<circle cx="1278.50" cy="332.80" r="5.75" fill="#70a24e"/>
<line x1="1309.00" y1="236.40" x2="1347.30" y2="236.40" stroke="#000" stroke-width="3.2" stroke-linecap="butt" />
<line x1="1326.50" y1="201.20" x2="1326.50" y2="263.90" stroke="#000" stroke-width="1.8" stroke-linecap="butt" />
<line x1="1315.80" y1="201.20" x2="1337.20" y2="201.20" stroke="#000" stroke-width="1.8" stroke-linecap="butt" />
<line x1="1315.80" y1="263.90" x2="1337.20" y2="263.90" stroke="#000" stroke-width="1.8" stroke-linecap="butt" />
<circle cx="1326.30" cy="164.30" r="5.75" fill="#70a24e"/>
<circle cx="1326.30" cy="175.60" r="5.75" fill="#70a24e"/>
<circle cx="1310.90" cy="219.70" r="5.75" fill="#70a24e"/>
<circle cx="1342.50" cy="224.60" r="5.75" fill="#70a24e"/>
<circle cx="1310.90" cy="238.30" r="5.75" fill="#70a24e"/>
<circle cx="1342.50" cy="240.40" r="5.75" fill="#70a24e"/>
<circle cx="1310.90" cy="257.10" r="5.75" fill="#70a24e"/>
<circle cx="1342.50" cy="266.00" r="5.75" fill="#70a24e"/>
<circle cx="1326.30" cy="292.30" r="5.75" fill="#70a24e"/>
<line x1="1065.60" y1="113.70" x2="1317.80" y2="113.70" stroke="#111" stroke-width="1.8" stroke-linecap="round" />
<line x1="1173.10" y1="90.80" x2="1173.10" y2="102.60" stroke="#000" stroke-width="2.9"/>
<line x1="1167.99" y1="93.75" x2="1178.21" y2="99.65" stroke="#000" stroke-width="2.9"/>
<line x1="1167.99" y1="99.65" x2="1178.21" y2="93.75" stroke="#000" stroke-width="2.9"/>
<line x1="1185.50" y1="90.80" x2="1185.50" y2="102.60" stroke="#000" stroke-width="2.9"/>
<line x1="1180.39" y1="93.75" x2="1190.61" y2="99.65" stroke="#000" stroke-width="2.9"/>
<line x1="1180.39" y1="99.65" x2="1190.61" y2="93.75" stroke="#000" stroke-width="2.9"/>
<line x1="1197.90" y1="90.80" x2="1197.90" y2="102.60" stroke="#000" stroke-width="2.9"/>
<line x1="1192.79" y1="93.75" x2="1203.01" y2="99.65" stroke="#000" stroke-width="2.9"/>
<line x1="1192.79" y1="99.65" x2="1203.01" y2="93.75" stroke="#000" stroke-width="2.9"/>
<line x1="1210.30" y1="90.80" x2="1210.30" y2="102.60" stroke="#000" stroke-width="2.9"/>
<line x1="1205.19" y1="93.75" x2="1215.41" y2="99.65" stroke="#000" stroke-width="2.9"/>
<line x1="1205.19" y1="99.65" x2="1215.41" y2="93.75" stroke="#000" stroke-width="2.9"/>
<line x1="1065.60" y1="140.40" x2="1254.80" y2="140.40" stroke="#111" stroke-width="1.8" stroke-linecap="round" />
<line x1="1154.15" y1="117.40" x2="1154.15" y2="129.20" stroke="#000" stroke-width="2.9"/>
<line x1="1149.04" y1="120.35" x2="1159.26" y2="126.25" stroke="#000" stroke-width="2.9"/>
<line x1="1149.04" y1="126.25" x2="1159.26" y2="120.35" stroke="#000" stroke-width="2.9"/>
<line x1="1166.55" y1="117.40" x2="1166.55" y2="129.20" stroke="#000" stroke-width="2.9"/>
<line x1="1161.44" y1="120.35" x2="1171.66" y2="126.25" stroke="#000" stroke-width="2.9"/>
<line x1="1161.44" y1="126.25" x2="1171.66" y2="120.35" stroke="#000" stroke-width="2.9"/>
<line x1="1431.80" y1="202.70" x2="1473.90" y2="202.70" stroke="#000" stroke-width="3.2" stroke-linecap="butt" />
<line x1="1452.80" y1="130.90" x2="1452.80" y2="252.50" stroke="#8b8bfc" stroke-width="1.8" stroke-linecap="butt" />
<line x1="1441.90" y1="252.50" x2="1463.70" y2="252.50" stroke="#8b8bfc" stroke-width="1.8" stroke-linecap="butt" />
<circle cx="1437.10" cy="150.30" r="5.75" fill="#8b8bfc"/>
<circle cx="1440.00" cy="142.00" r="5.75" fill="#8b8bfc"/>
<circle cx="1446.30" cy="139.50" r="5.75" fill="#8b8bfc"/>
<circle cx="1452.90" cy="138.80" r="5.75" fill="#8b8bfc"/>
<circle cx="1459.00" cy="141.00" r="5.75" fill="#8b8bfc"/>
<circle cx="1465.30" cy="140.40" r="5.75" fill="#8b8bfc"/>
<circle cx="1468.60" cy="152.00" r="5.75" fill="#8b8bfc"/>
<circle cx="1462.00" cy="153.30" r="5.75" fill="#8b8bfc"/>
<circle cx="1452.50" cy="156.50" r="5.75" fill="#8b8bfc"/>
<circle cx="1447.80" cy="152.50" r="5.75" fill="#8b8bfc"/>
<circle cx="1455.50" cy="150.50" r="5.75" fill="#8b8bfc"/>
<circle cx="1456.50" cy="146.00" r="5.75" fill="#8b8bfc"/>
<circle cx="1443.50" cy="146.50" r="5.75" fill="#8b8bfc"/>
<circle cx="1453.00" cy="256.50" r="5.75" fill="#8b8bfc"/>
<circle cx="1449.50" cy="332.50" r="5.75" fill="#8b8bfc"/>
<circle cx="1456.40" cy="332.50" r="5.75" fill="#8b8bfc"/>
<circle cx="296.90" cy="761.00" r="5.5" fill="#3d7199"/>
<circle cx="300.82" cy="761.00" r="5.5" fill="#3d7199"/>
<circle cx="304.75" cy="761.00" r="5.5" fill="#3d7199"/>
<circle cx="308.68" cy="761.00" r="5.5" fill="#3d7199"/>
<circle cx="312.60" cy="761.00" r="5.5" fill="#3d7199"/>
<circle cx="316.52" cy="761.00" r="5.5" fill="#3d7199"/>
<circle cx="320.45" cy="761.00" r="5.5" fill="#3d7199"/>
<circle cx="324.38" cy="761.00" r="5.5" fill="#3d7199"/>
<circle cx="328.30" cy="761.00" r="5.5" fill="#3d7199"/>
<circle cx="307.40" cy="761.00" r="6.7" fill="#3d7199"/>
<circle cx="311.00" cy="761.00" r="6.7" fill="#3d7199"/>
<circle cx="314.60" cy="761.00" r="6.7" fill="#3d7199"/>
<circle cx="360.30" cy="760.80" r="5.5" fill="#3d7199"/>
<circle cx="364.16" cy="760.80" r="5.5" fill="#3d7199"/>
<circle cx="368.02" cy="760.80" r="5.5" fill="#3d7199"/>
<circle cx="371.89" cy="760.80" r="5.5" fill="#3d7199"/>
<circle cx="375.75" cy="760.80" r="5.5" fill="#3d7199"/>
<circle cx="379.61" cy="760.80" r="5.5" fill="#3d7199"/>
<circle cx="383.48" cy="760.80" r="5.5" fill="#3d7199"/>
<circle cx="387.34" cy="760.80" r="5.5" fill="#3d7199"/>
<circle cx="391.20" cy="760.80" r="5.5" fill="#3d7199"/>
<circle cx="370.40" cy="760.80" r="6.7" fill="#3d7199"/>
<circle cx="374.00" cy="760.80" r="6.7" fill="#3d7199"/>
<circle cx="377.60" cy="760.80" r="6.7" fill="#3d7199"/>
<circle cx="423.80" cy="760.80" r="5.5" fill="#3d7199"/>
<circle cx="427.75" cy="760.80" r="5.5" fill="#3d7199"/>
<circle cx="431.70" cy="760.80" r="5.5" fill="#3d7199"/>
<circle cx="435.65" cy="760.80" r="5.5" fill="#3d7199"/>
<circle cx="439.60" cy="760.80" r="5.5" fill="#3d7199"/>
<circle cx="443.55" cy="760.80" r="5.5" fill="#3d7199"/>
<circle cx="447.50" cy="760.80" r="5.5" fill="#3d7199"/>
<circle cx="451.45" cy="760.80" r="5.5" fill="#3d7199"/>
<circle cx="455.40" cy="760.80" r="5.5" fill="#3d7199"/>
<circle cx="434.30" cy="760.80" r="6.7" fill="#3d7199"/>
<circle cx="437.90" cy="760.80" r="6.7" fill="#3d7199"/>
<circle cx="441.50" cy="760.80" r="6.7" fill="#3d7199"/>
<line x1="481.60" y1="679.40" x2="524.20" y2="679.40" stroke="#000" stroke-width="3.2" stroke-linecap="butt" />
<line x1="502.90" y1="602.80" x2="502.90" y2="726.70" stroke="#3d7199" stroke-width="1.8" stroke-linecap="butt" />
<line x1="491.90" y1="602.80" x2="513.90" y2="602.80" stroke="#3d7199" stroke-width="1.8" stroke-linecap="butt" />
<line x1="491.90" y1="726.70" x2="513.90" y2="726.70" stroke="#3d7199" stroke-width="1.8" stroke-linecap="butt" />
<circle cx="502.90" cy="549.60" r="5.5" fill="#3d7199"/>
<circle cx="502.90" cy="566.80" r="7" fill="#3d7199"/>
<circle cx="502.90" cy="594.40" r="7" fill="#3d7199"/>
<circle cx="502.90" cy="612.70" r="7" fill="#3d7199"/>
<circle cx="502.90" cy="630.90" r="5.5" fill="#3d7199"/>
<circle cx="502.90" cy="659.40" r="5.5" fill="#3d7199"/>
<circle cx="502.90" cy="707.10" r="5.5" fill="#3d7199"/>
<circle cx="502.90" cy="718.60" r="5.5" fill="#3d7199"/>
<circle cx="487.20" cy="761.20" r="5.5" fill="#3d7199"/>
<circle cx="518.20" cy="761.20" r="5.5" fill="#3d7199"/>
<line x1="545.30" y1="688.20" x2="587.30" y2="688.20" stroke="#000" stroke-width="3.2" stroke-linecap="butt" />
<line x1="566.40" y1="624.00" x2="566.40" y2="729.10" stroke="#3d7199" stroke-width="1.8" stroke-linecap="butt" />
<line x1="555.40" y1="624.00" x2="577.40" y2="624.00" stroke="#3d7199" stroke-width="1.8" stroke-linecap="butt" />
<line x1="555.40" y1="729.10" x2="577.40" y2="729.10" stroke="#3d7199" stroke-width="1.8" stroke-linecap="butt" />
<circle cx="550.70" cy="574.50" r="5.5" fill="#3d7199"/>
<circle cx="582.10" cy="573.00" r="7" fill="#3d7199"/>
<circle cx="550.70" cy="637.40" r="7" fill="#3d7199"/>
<circle cx="582.10" cy="635.50" r="5.5" fill="#3d7199"/>
<circle cx="566.40" cy="660.20" r="7" fill="#3d7199"/>
<circle cx="566.40" cy="681.30" r="5.5" fill="#3d7199"/>
<circle cx="566.40" cy="695.30" r="5.5" fill="#3d7199"/>
<circle cx="566.40" cy="717.70" r="5.5" fill="#3d7199"/>
<circle cx="550.70" cy="761.20" r="5.5" fill="#3d7199"/>
<circle cx="582.10" cy="761.20" r="5.5" fill="#3d7199"/>
<line x1="313.00" y1="497.00" x2="573.00" y2="497.00" stroke="#111" stroke-width="1.6" stroke-linecap="round" />
<line x1="437.30" y1="477.40" x2="437.30" y2="487.80" stroke="#000" stroke-width="2.6"/>
<line x1="432.80" y1="480.00" x2="441.80" y2="485.20" stroke="#000" stroke-width="2.6"/>
<line x1="432.80" y1="485.20" x2="441.80" y2="480.00" stroke="#000" stroke-width="2.6"/>
<line x1="448.30" y1="477.40" x2="448.30" y2="487.80" stroke="#000" stroke-width="2.6"/>
<line x1="443.80" y1="480.00" x2="452.80" y2="485.20" stroke="#000" stroke-width="2.6"/>
<line x1="443.80" y1="485.20" x2="452.80" y2="480.00" stroke="#000" stroke-width="2.6"/>
<line x1="313.00" y1="527.60" x2="508.40" y2="527.60" stroke="#111" stroke-width="1.6" stroke-linecap="round" />
<line x1="399.70" y1="507.00" x2="399.70" y2="517.40" stroke="#000" stroke-width="2.6"/>
<line x1="395.20" y1="509.60" x2="404.20" y2="514.80" stroke="#000" stroke-width="2.6"/>
<line x1="395.20" y1="514.80" x2="404.20" y2="509.60" stroke="#000" stroke-width="2.6"/>
<line x1="410.70" y1="507.00" x2="410.70" y2="517.40" stroke="#000" stroke-width="2.6"/>
<line x1="406.20" y1="509.60" x2="415.20" y2="514.80" stroke="#000" stroke-width="2.6"/>
<line x1="406.20" y1="514.80" x2="415.20" y2="509.60" stroke="#000" stroke-width="2.6"/>
<line x1="421.70" y1="507.00" x2="421.70" y2="517.40" stroke="#000" stroke-width="2.6"/>
<line x1="417.20" y1="509.60" x2="426.20" y2="514.80" stroke="#000" stroke-width="2.6"/>
<line x1="417.20" y1="514.80" x2="426.20" y2="509.60" stroke="#000" stroke-width="2.6"/>
<circle cx="677.60" cy="760.80" r="6.75" fill="#b0504c"/>
<circle cx="685.30" cy="760.80" r="6.75" fill="#b0504c"/>
<circle cx="693.00" cy="760.80" r="6.75" fill="#b0504c"/>
<circle cx="700.70" cy="760.80" r="6.75" fill="#b0504c"/>
<circle cx="708.40" cy="760.80" r="6.75" fill="#b0504c"/>
<line x1="735.90" y1="753.10" x2="777.70" y2="753.10" stroke="#000" stroke-width="3.2" stroke-linecap="butt" />
<line x1="756.40" y1="721.20" x2="756.40" y2="772.30" stroke="#000" stroke-width="1.8" stroke-linecap="butt" />
<line x1="745.75" y1="721.20" x2="767.05" y2="721.20" stroke="#000" stroke-width="1.8" stroke-linecap="butt" />
<line x1="745.75" y1="772.30" x2="767.05" y2="772.30" stroke="#000" stroke-width="1.8" stroke-linecap="butt" />
<circle cx="741.40" cy="760.80" r="6.75" fill="#b0504c"/>
<circle cx="751.30" cy="760.80" r="6.75" fill="#b0504c"/>
<circle cx="762.30" cy="760.80" r="6.75" fill="#b0504c"/>
<circle cx="772.60" cy="760.80" r="6.75" fill="#b0504c"/>
<circle cx="756.40" cy="701.00" r="6.75" fill="#b0504c"/>
<line x1="799.00" y1="753.10" x2="841.10" y2="753.10" stroke="#000" stroke-width="3.2" stroke-linecap="butt" />
<line x1="819.80" y1="721.90" x2="819.80" y2="772.30" stroke="#000" stroke-width="1.8" stroke-linecap="butt" />
<line x1="809.15" y1="721.90" x2="830.45" y2="721.90" stroke="#000" stroke-width="1.8" stroke-linecap="butt" />
<line x1="809.15" y1="772.30" x2="830.45" y2="772.30" stroke="#000" stroke-width="1.8" stroke-linecap="butt" />
<circle cx="804.10" cy="760.80" r="6.75" fill="#b0504c"/>
<circle cx="814.70" cy="760.80" r="6.75" fill="#b0504c"/>
<circle cx="825.50" cy="760.80" r="6.75" fill="#b0504c"/>
<circle cx="836.00" cy="760.80" r="6.75" fill="#b0504c"/>
<circle cx="819.50" cy="703.20" r="6.75" fill="#b0504c"/>
<line x1="862.40" y1="751.10" x2="904.70" y2="751.10" stroke="#000" stroke-width="3.2" stroke-linecap="butt" />
<line x1="883.40" y1="707.60" x2="883.40" y2="774.70" stroke="#000" stroke-width="1.8" stroke-linecap="butt" />
<line x1="872.75" y1="707.60" x2="894.05" y2="707.60" stroke="#000" stroke-width="1.8" stroke-linecap="butt" />
<line x1="872.75" y1="774.70" x2="894.05" y2="774.70" stroke="#000" stroke-width="1.8" stroke-linecap="butt" />
<circle cx="867.90" cy="760.80" r="6.75" fill="#b0504c"/>
<circle cx="878.50" cy="760.80" r="6.75" fill="#b0504c"/>
<circle cx="888.80" cy="760.80" r="6.75" fill="#b0504c"/>
<circle cx="899.40" cy="760.80" r="6.75" fill="#b0504c"/>
<circle cx="883.30" cy="678.30" r="6.75" fill="#b0504c"/>
<line x1="926.20" y1="749.80" x2="968.00" y2="749.80" stroke="#000" stroke-width="3.2" stroke-linecap="butt" />
<line x1="947.00" y1="700.30" x2="947.00" y2="775.60" stroke="#000" stroke-width="1.8" stroke-linecap="butt" />
<line x1="936.35" y1="700.30" x2="957.65" y2="700.30" stroke="#000" stroke-width="1.8" stroke-linecap="butt" />
<line x1="936.35" y1="775.60" x2="957.65" y2="775.60" stroke="#000" stroke-width="1.8" stroke-linecap="butt" />
<circle cx="931.10" cy="760.80" r="6.75" fill="#b0504c"/>
<circle cx="941.60" cy="760.80" r="6.75" fill="#b0504c"/>
<circle cx="952.20" cy="760.80" r="6.75" fill="#b0504c"/>
<circle cx="963.00" cy="760.80" r="6.75" fill="#b0504c"/>
<circle cx="946.70" cy="665.30" r="6.75" fill="#b0504c"/>
<line x1="702.20" y1="651.20" x2="962.50" y2="651.20" stroke="#111" stroke-width="1.6" stroke-linecap="round" />
<line x1="832.50" y1="631.00" x2="832.50" y2="641.40" stroke="#000" stroke-width="2.6"/>
<line x1="828.00" y1="633.60" x2="837.00" y2="638.80" stroke="#000" stroke-width="2.6"/>
<line x1="828.00" y1="638.80" x2="837.00" y2="633.60" stroke="#000" stroke-width="2.6"/>
<circle cx="1058.20" cy="760.90" r="6.7" fill="#70a24e"/>
<circle cx="1062.15" cy="760.90" r="6.7" fill="#70a24e"/>
<circle cx="1066.10" cy="760.90" r="6.7" fill="#70a24e"/>
<circle cx="1070.05" cy="760.90" r="6.7" fill="#70a24e"/>
<circle cx="1074.00" cy="760.90" r="6.7" fill="#70a24e"/>
<circle cx="1077.95" cy="760.90" r="6.7" fill="#70a24e"/>
<circle cx="1081.90" cy="760.90" r="6.7" fill="#70a24e"/>
<circle cx="1085.85" cy="760.90" r="6.7" fill="#70a24e"/>
<circle cx="1089.80" cy="760.90" r="6.7" fill="#70a24e"/>
<circle cx="1121.60" cy="760.90" r="6.7" fill="#70a24e"/>
<circle cx="1125.56" cy="760.90" r="6.7" fill="#70a24e"/>
<circle cx="1129.52" cy="760.90" r="6.7" fill="#70a24e"/>
<circle cx="1133.49" cy="760.90" r="6.7" fill="#70a24e"/>
<circle cx="1137.45" cy="760.90" r="6.7" fill="#70a24e"/>
<circle cx="1141.41" cy="760.90" r="6.7" fill="#70a24e"/>
<circle cx="1145.38" cy="760.90" r="6.7" fill="#70a24e"/>
<circle cx="1149.34" cy="760.90" r="6.7" fill="#70a24e"/>
<circle cx="1153.30" cy="760.90" r="6.7" fill="#70a24e"/>
<circle cx="1185.10" cy="760.90" r="6.7" fill="#70a24e"/>
<circle cx="1189.05" cy="760.90" r="6.7" fill="#70a24e"/>
<circle cx="1193.00" cy="760.90" r="6.7" fill="#70a24e"/>
<circle cx="1196.95" cy="760.90" r="6.7" fill="#70a24e"/>
<circle cx="1200.90" cy="760.90" r="6.7" fill="#70a24e"/>
<circle cx="1204.85" cy="760.90" r="6.7" fill="#70a24e"/>
<circle cx="1208.80" cy="760.90" r="6.7" fill="#70a24e"/>
<circle cx="1212.75" cy="760.90" r="6.7" fill="#70a24e"/>
<circle cx="1216.70" cy="760.90" r="6.7" fill="#70a24e"/>
<line x1="1243.00" y1="756.60" x2="1286.00" y2="756.60" stroke="#000" stroke-width="3.2" stroke-linecap="butt" />
<line x1="1264.40" y1="746.70" x2="1264.40" y2="760.90" stroke="#000" stroke-width="1.8" stroke-linecap="butt" />
<line x1="1253.50" y1="746.70" x2="1275.30" y2="746.70" stroke="#000" stroke-width="1.8" stroke-linecap="butt" />
<circle cx="1248.60" cy="760.90" r="6.7" fill="#70a24e"/>
<circle cx="1252.55" cy="760.90" r="6.7" fill="#70a24e"/>
<circle cx="1256.50" cy="760.90" r="6.7" fill="#70a24e"/>
<circle cx="1260.45" cy="760.90" r="6.7" fill="#70a24e"/>
<circle cx="1264.40" cy="760.90" r="6.7" fill="#70a24e"/>
<circle cx="1268.35" cy="760.90" r="6.7" fill="#70a24e"/>
<circle cx="1272.30" cy="760.90" r="6.7" fill="#70a24e"/>
<circle cx="1276.25" cy="760.90" r="6.7" fill="#70a24e"/>
<circle cx="1280.20" cy="760.90" r="6.7" fill="#70a24e"/>
<circle cx="1264.40" cy="718.50" r="6.7" fill="#70a24e"/>
<line x1="1306.80" y1="729.40" x2="1348.90" y2="729.40" stroke="#000" stroke-width="3.2" stroke-linecap="butt" />
<line x1="1327.60" y1="675.90" x2="1327.60" y2="760.90" stroke="#000" stroke-width="1.8" stroke-linecap="butt" />
<line x1="1316.75" y1="675.90" x2="1338.45" y2="675.90" stroke="#000" stroke-width="1.8" stroke-linecap="butt" />
<circle cx="1327.40" cy="580.70" r="6.7" fill="#70a24e"/>
<circle cx="1327.40" cy="676.40" r="6.7" fill="#70a24e"/>
<circle cx="1333.00" cy="700.90" r="6.7" fill="#70a24e"/>
<circle cx="1322.20" cy="705.40" r="6.7" fill="#70a24e"/>
<circle cx="1312.00" cy="760.90" r="6.7" fill="#70a24e"/>
<circle cx="1322.20" cy="760.90" r="6.7" fill="#70a24e"/>
<circle cx="1332.80" cy="760.90" r="6.7" fill="#70a24e"/>
<circle cx="1343.70" cy="760.90" r="6.7" fill="#70a24e"/>
<line x1="1091.00" y1="554.50" x2="1351.60" y2="554.50" stroke="#111" stroke-width="1.6" stroke-linecap="round" />
<line x1="1210.30" y1="534.70" x2="1210.30" y2="545.10" stroke="#000" stroke-width="2.6"/>
<line x1="1205.80" y1="537.30" x2="1214.80" y2="542.50" stroke="#000" stroke-width="2.6"/>
<line x1="1205.80" y1="542.50" x2="1214.80" y2="537.30" stroke="#000" stroke-width="2.6"/>
<line x1="1221.30" y1="534.70" x2="1221.30" y2="545.10" stroke="#000" stroke-width="2.6"/>
<line x1="1216.80" y1="537.30" x2="1225.80" y2="542.50" stroke="#000" stroke-width="2.6"/>
<line x1="1216.80" y1="542.50" x2="1225.80" y2="537.30" stroke="#000" stroke-width="2.6"/>
<line x1="1232.30" y1="534.70" x2="1232.30" y2="545.10" stroke="#000" stroke-width="2.6"/>
<line x1="1227.80" y1="537.30" x2="1236.80" y2="542.50" stroke="#000" stroke-width="2.6"/>
<line x1="1227.80" y1="542.50" x2="1236.80" y2="537.30" stroke="#000" stroke-width="2.6"/>
<circle cx="297.80" cy="1206.30" r="5.5" fill="#3d7199"/>
<circle cx="301.74" cy="1206.30" r="5.5" fill="#3d7199"/>
<circle cx="305.68" cy="1206.30" r="5.5" fill="#3d7199"/>
<circle cx="309.61" cy="1206.30" r="5.5" fill="#3d7199"/>
<circle cx="313.55" cy="1206.30" r="5.5" fill="#3d7199"/>
<circle cx="317.49" cy="1206.30" r="5.5" fill="#3d7199"/>
<circle cx="321.43" cy="1206.30" r="5.5" fill="#3d7199"/>
<circle cx="325.36" cy="1206.30" r="5.5" fill="#3d7199"/>
<circle cx="329.30" cy="1206.30" r="5.5" fill="#3d7199"/>
<circle cx="361.70" cy="1206.30" r="5.5" fill="#3d7199"/>
<circle cx="365.49" cy="1206.30" r="5.5" fill="#3d7199"/>
<circle cx="369.27" cy="1206.30" r="5.5" fill="#3d7199"/>
<circle cx="373.06" cy="1206.30" r="5.5" fill="#3d7199"/>
<circle cx="376.85" cy="1206.30" r="5.5" fill="#3d7199"/>
<circle cx="380.64" cy="1206.30" r="5.5" fill="#3d7199"/>
<circle cx="384.43" cy="1206.30" r="5.5" fill="#3d7199"/>
<circle cx="388.21" cy="1206.30" r="5.5" fill="#3d7199"/>
<circle cx="392.00" cy="1206.30" r="5.5" fill="#3d7199"/>
<line x1="419.20" y1="1197.50" x2="461.10" y2="1197.50" stroke="#000" stroke-width="3.2" stroke-linecap="butt" />
<line x1="439.90" y1="1167.70" x2="439.90" y2="1216.50" stroke="#3d7199" stroke-width="1.8" stroke-linecap="butt" />
<line x1="429.00" y1="1167.70" x2="450.80" y2="1167.70" stroke="#3d7199" stroke-width="1.8" stroke-linecap="butt" />
<line x1="429.00" y1="1216.50" x2="450.80" y2="1216.50" stroke="#3d7199" stroke-width="1.8" stroke-linecap="butt" />
<circle cx="424.70" cy="1206.40" r="5.5" fill="#3d7199"/>
<circle cx="429.11" cy="1206.40" r="5.5" fill="#3d7199"/>
<circle cx="433.53" cy="1206.40" r="5.5" fill="#3d7199"/>
<circle cx="437.94" cy="1206.40" r="5.5" fill="#3d7199"/>
<circle cx="442.36" cy="1206.40" r="5.5" fill="#3d7199"/>
<circle cx="446.77" cy="1206.40" r="5.5" fill="#3d7199"/>
<circle cx="451.19" cy="1206.40" r="5.5" fill="#3d7199"/>
<circle cx="455.60" cy="1206.40" r="5.5" fill="#3d7199"/>
<circle cx="439.90" cy="1090.60" r="5.5" fill="#3d7199"/>
<line x1="482.30" y1="1042.90" x2="524.60" y2="1042.90" stroke="#000" stroke-width="3.2" stroke-linecap="butt" />
<line x1="503.40" y1="988.80" x2="503.40" y2="1086.00" stroke="#3d7199" stroke-width="1.8" stroke-linecap="butt" />
<line x1="492.65" y1="988.80" x2="514.15" y2="988.80" stroke="#3d7199" stroke-width="1.8" stroke-linecap="butt" />
<line x1="492.65" y1="1086.00" x2="514.15" y2="1086.00" stroke="#3d7199" stroke-width="1.8" stroke-linecap="butt" />
<circle cx="488.10" cy="984.60" r="5.5" fill="#3d7199"/>
<circle cx="519.00" cy="991.70" r="5.5" fill="#3d7199"/>
<circle cx="488.10" cy="1013.00" r="5.5" fill="#3d7199"/>
<circle cx="519.00" cy="1018.90" r="5.5" fill="#3d7199"/>
<circle cx="503.40" cy="1061.80" r="5.5" fill="#3d7199"/>
<circle cx="503.40" cy="1076.90" r="5.5" fill="#3d7199"/>
<circle cx="503.40" cy="1116.90" r="5.5" fill="#3d7199"/>
<line x1="545.80" y1="1054.00" x2="588.10" y2="1054.00" stroke="#000" stroke-width="3.2" stroke-linecap="butt" />
<line x1="566.90" y1="1001.70" x2="566.90" y2="1095.50" stroke="#3d7199" stroke-width="1.8" stroke-linecap="butt" />
<line x1="556.05" y1="1001.70" x2="577.75" y2="1001.70" stroke="#3d7199" stroke-width="1.8" stroke-linecap="butt" />
<line x1="556.05" y1="1095.50" x2="577.75" y2="1095.50" stroke="#3d7199" stroke-width="1.8" stroke-linecap="butt" />
<circle cx="551.20" cy="999.70" r="5.5" fill="#3d7199"/>
<circle cx="582.50" cy="1007.00" r="5.5" fill="#3d7199"/>
<circle cx="551.20" cy="1028.10" r="5.5" fill="#3d7199"/>
<circle cx="582.50" cy="1035.60" r="5.5" fill="#3d7199"/>
<circle cx="566.90" cy="1053.80" r="5.5" fill="#3d7199"/>
<circle cx="566.90" cy="1090.60" r="5.5" fill="#3d7199"/>
<circle cx="566.90" cy="1127.30" r="5.5" fill="#3d7199"/>
<line x1="313.60" y1="931.40" x2="573.60" y2="931.40" stroke="#111" stroke-width="1.6" stroke-linecap="round" />
<line x1="438.20" y1="911.60" x2="438.20" y2="922.00" stroke="#000" stroke-width="2.6"/>
<line x1="433.70" y1="914.20" x2="442.70" y2="919.40" stroke="#000" stroke-width="2.6"/>
<line x1="433.70" y1="919.40" x2="442.70" y2="914.20" stroke="#000" stroke-width="2.6"/>
<line x1="449.20" y1="911.60" x2="449.20" y2="922.00" stroke="#000" stroke-width="2.6"/>
<line x1="444.70" y1="914.20" x2="453.70" y2="919.40" stroke="#000" stroke-width="2.6"/>
<line x1="444.70" y1="919.40" x2="453.70" y2="914.20" stroke="#000" stroke-width="2.6"/>
<line x1="314.00" y1="962.60" x2="509.00" y2="962.60" stroke="#111" stroke-width="1.6" stroke-linecap="round" />
<line x1="394.80" y1="942.60" x2="394.80" y2="953.00" stroke="#000" stroke-width="2.6"/>
<line x1="390.30" y1="945.20" x2="399.30" y2="950.40" stroke="#000" stroke-width="2.6"/>
<line x1="390.30" y1="950.40" x2="399.30" y2="945.20" stroke="#000" stroke-width="2.6"/>
<line x1="405.80" y1="942.60" x2="405.80" y2="953.00" stroke="#000" stroke-width="2.6"/>
<line x1="401.30" y1="945.20" x2="410.30" y2="950.40" stroke="#000" stroke-width="2.6"/>
<line x1="401.30" y1="950.40" x2="410.30" y2="945.20" stroke="#000" stroke-width="2.6"/>
<line x1="416.80" y1="942.60" x2="416.80" y2="953.00" stroke="#000" stroke-width="2.6"/>
<line x1="412.30" y1="945.20" x2="421.30" y2="950.40" stroke="#000" stroke-width="2.6"/>
<line x1="412.30" y1="950.40" x2="421.30" y2="945.20" stroke="#000" stroke-width="2.6"/>
<line x1="427.80" y1="942.60" x2="427.80" y2="953.00" stroke="#000" stroke-width="2.6"/>
<line x1="423.30" y1="945.20" x2="432.30" y2="950.40" stroke="#000" stroke-width="2.6"/>
<line x1="423.30" y1="950.40" x2="432.30" y2="945.20" stroke="#000" stroke-width="2.6"/>
<circle cx="678.60" cy="1206.10" r="6.8" fill="#b0504c"/>
<circle cx="682.02" cy="1206.10" r="6.8" fill="#b0504c"/>
<circle cx="685.44" cy="1206.10" r="6.8" fill="#b0504c"/>
<circle cx="688.87" cy="1206.10" r="6.8" fill="#b0504c"/>
<circle cx="692.29" cy="1206.10" r="6.8" fill="#b0504c"/>
<circle cx="695.71" cy="1206.10" r="6.8" fill="#b0504c"/>
<circle cx="699.13" cy="1206.10" r="6.8" fill="#b0504c"/>
<circle cx="702.56" cy="1206.10" r="6.8" fill="#b0504c"/>
<circle cx="705.98" cy="1206.10" r="6.8" fill="#b0504c"/>
<circle cx="709.40" cy="1206.10" r="6.8" fill="#b0504c"/>
<circle cx="742.00" cy="1206.10" r="6.8" fill="#b0504c"/>
<circle cx="745.43" cy="1206.10" r="6.8" fill="#b0504c"/>
<circle cx="748.87" cy="1206.10" r="6.8" fill="#b0504c"/>
<circle cx="752.30" cy="1206.10" r="6.8" fill="#b0504c"/>
<circle cx="755.73" cy="1206.10" r="6.8" fill="#b0504c"/>
<circle cx="759.17" cy="1206.10" r="6.8" fill="#b0504c"/>
<circle cx="762.60" cy="1206.10" r="6.8" fill="#b0504c"/>
<circle cx="766.03" cy="1206.10" r="6.8" fill="#b0504c"/>
<circle cx="769.47" cy="1206.10" r="6.8" fill="#b0504c"/>
<circle cx="772.90" cy="1206.10" r="6.8" fill="#b0504c"/>
<circle cx="805.50" cy="1206.10" r="6.8" fill="#b0504c"/>
<circle cx="808.92" cy="1206.10" r="6.8" fill="#b0504c"/>
<circle cx="812.34" cy="1206.10" r="6.8" fill="#b0504c"/>
<circle cx="815.77" cy="1206.10" r="6.8" fill="#b0504c"/>
<circle cx="819.19" cy="1206.10" r="6.8" fill="#b0504c"/>
<circle cx="822.61" cy="1206.10" r="6.8" fill="#b0504c"/>
<circle cx="826.03" cy="1206.10" r="6.8" fill="#b0504c"/>
<circle cx="829.46" cy="1206.10" r="6.8" fill="#b0504c"/>
<circle cx="832.88" cy="1206.10" r="6.8" fill="#b0504c"/>
<circle cx="836.30" cy="1206.10" r="6.8" fill="#b0504c"/>
<circle cx="869.00" cy="1206.10" r="6.8" fill="#b0504c"/>
<circle cx="872.42" cy="1206.10" r="6.8" fill="#b0504c"/>
<circle cx="875.84" cy="1206.10" r="6.8" fill="#b0504c"/>
<circle cx="879.27" cy="1206.10" r="6.8" fill="#b0504c"/>
<circle cx="882.69" cy="1206.10" r="6.8" fill="#b0504c"/>
<circle cx="886.11" cy="1206.10" r="6.8" fill="#b0504c"/>
<circle cx="889.53" cy="1206.10" r="6.8" fill="#b0504c"/>
<circle cx="892.96" cy="1206.10" r="6.8" fill="#b0504c"/>
<circle cx="896.38" cy="1206.10" r="6.8" fill="#b0504c"/>
<circle cx="899.80" cy="1206.10" r="6.8" fill="#b0504c"/>
<circle cx="932.40" cy="1206.10" r="6.8" fill="#b0504c"/>
<circle cx="935.80" cy="1206.10" r="6.8" fill="#b0504c"/>
<circle cx="939.20" cy="1206.10" r="6.8" fill="#b0504c"/>
<circle cx="942.60" cy="1206.10" r="6.8" fill="#b0504c"/>
<circle cx="946.00" cy="1206.10" r="6.8" fill="#b0504c"/>
<circle cx="949.40" cy="1206.10" r="6.8" fill="#b0504c"/>
<circle cx="952.80" cy="1206.10" r="6.8" fill="#b0504c"/>
<circle cx="956.20" cy="1206.10" r="6.8" fill="#b0504c"/>
<circle cx="959.60" cy="1206.10" r="6.8" fill="#b0504c"/>
<circle cx="963.00" cy="1206.10" r="6.8" fill="#b0504c"/>
<circle cx="1059.30" cy="1205.90" r="6.8" fill="#70a24e"/>
<circle cx="1062.70" cy="1205.90" r="6.8" fill="#70a24e"/>
<circle cx="1066.10" cy="1205.90" r="6.8" fill="#70a24e"/>
<circle cx="1069.50" cy="1205.90" r="6.8" fill="#70a24e"/>
<circle cx="1072.90" cy="1205.90" r="6.8" fill="#70a24e"/>
<circle cx="1076.30" cy="1205.90" r="6.8" fill="#70a24e"/>
<circle cx="1079.70" cy="1205.90" r="6.8" fill="#70a24e"/>
<circle cx="1083.10" cy="1205.90" r="6.8" fill="#70a24e"/>
<circle cx="1086.50" cy="1205.90" r="6.8" fill="#70a24e"/>
<circle cx="1089.90" cy="1205.90" r="6.8" fill="#70a24e"/>
<circle cx="1122.70" cy="1205.90" r="6.8" fill="#70a24e"/>
<circle cx="1126.10" cy="1205.90" r="6.8" fill="#70a24e"/>
<circle cx="1129.50" cy="1205.90" r="6.8" fill="#70a24e"/>
<circle cx="1132.90" cy="1205.90" r="6.8" fill="#70a24e"/>
<circle cx="1136.30" cy="1205.90" r="6.8" fill="#70a24e"/>
<circle cx="1139.70" cy="1205.90" r="6.8" fill="#70a24e"/>
<circle cx="1143.10" cy="1205.90" r="6.8" fill="#70a24e"/>
<circle cx="1146.50" cy="1205.90" r="6.8" fill="#70a24e"/>
<circle cx="1149.90" cy="1205.90" r="6.8" fill="#70a24e"/>
<circle cx="1153.30" cy="1205.90" r="6.8" fill="#70a24e"/>
<circle cx="1186.20" cy="1205.90" r="6.8" fill="#70a24e"/>
<circle cx="1189.60" cy="1205.90" r="6.8" fill="#70a24e"/>
<circle cx="1193.00" cy="1205.90" r="6.8" fill="#70a24e"/>
<circle cx="1196.40" cy="1205.90" r="6.8" fill="#70a24e"/>
<circle cx="1199.80" cy="1205.90" r="6.8" fill="#70a24e"/>
<circle cx="1203.20" cy="1205.90" r="6.8" fill="#70a24e"/>
<circle cx="1206.60" cy="1205.90" r="6.8" fill="#70a24e"/>
<circle cx="1210.00" cy="1205.90" r="6.8" fill="#70a24e"/>
<circle cx="1213.40" cy="1205.90" r="6.8" fill="#70a24e"/>
<circle cx="1216.80" cy="1205.90" r="6.8" fill="#70a24e"/>
<circle cx="1249.70" cy="1205.90" r="6.8" fill="#70a24e"/>
<circle cx="1253.10" cy="1205.90" r="6.8" fill="#70a24e"/>
<circle cx="1256.50" cy="1205.90" r="6.8" fill="#70a24e"/>
<circle cx="1259.90" cy="1205.90" r="6.8" fill="#70a24e"/>
<circle cx="1263.30" cy="1205.90" r="6.8" fill="#70a24e"/>
<circle cx="1266.70" cy="1205.90" r="6.8" fill="#70a24e"/>
<circle cx="1270.10" cy="1205.90" r="6.8" fill="#70a24e"/>
<circle cx="1273.50" cy="1205.90" r="6.8" fill="#70a24e"/>
<circle cx="1276.90" cy="1205.90" r="6.8" fill="#70a24e"/>
<circle cx="1280.30" cy="1205.90" r="6.8" fill="#70a24e"/>
<line x1="1307.00" y1="1199.10" x2="1349.00" y2="1199.10" stroke="#000" stroke-width="3.2" stroke-linecap="butt" />
<line x1="1328.00" y1="1185.80" x2="1328.00" y2="1205.90" stroke="#000" stroke-width="1.8" stroke-linecap="butt" />
<line x1="1317.15" y1="1185.80" x2="1338.85" y2="1185.80" stroke="#000" stroke-width="1.8" stroke-linecap="butt" />
<circle cx="1312.70" cy="1205.90" r="6.8" fill="#70a24e"/>
<circle cx="1316.10" cy="1205.90" r="6.8" fill="#70a24e"/>
<circle cx="1319.50" cy="1205.90" r="6.8" fill="#70a24e"/>
<circle cx="1322.90" cy="1205.90" r="6.8" fill="#70a24e"/>
<circle cx="1326.30" cy="1205.90" r="6.8" fill="#70a24e"/>
<circle cx="1329.70" cy="1205.90" r="6.8" fill="#70a24e"/>
<circle cx="1333.10" cy="1205.90" r="6.8" fill="#70a24e"/>
<circle cx="1336.50" cy="1205.90" r="6.8" fill="#70a24e"/>
<circle cx="1339.90" cy="1205.90" r="6.8" fill="#70a24e"/>
<circle cx="1343.30" cy="1205.90" r="6.8" fill="#70a24e"/>
<circle cx="1326.10" cy="1158.30" r="6.8" fill="#70a24e"/>
<circle cx="1330.10" cy="1153.10" r="6.8" fill="#70a24e"/>
</svg>
</body></html>
